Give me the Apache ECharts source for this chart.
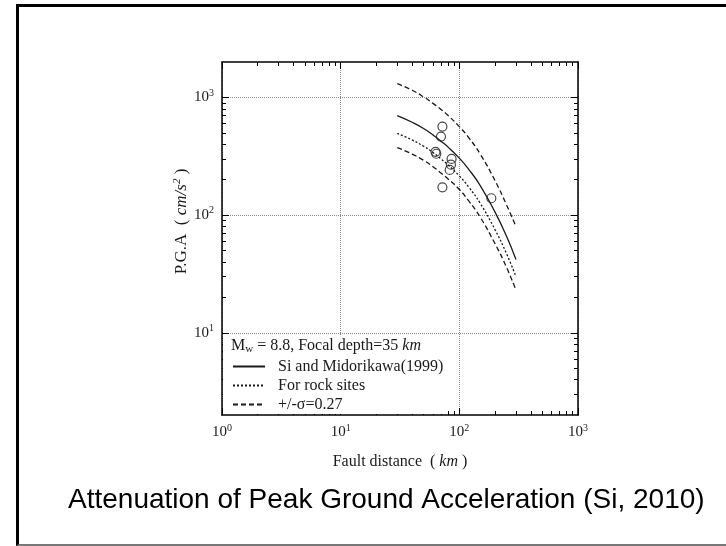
<!DOCTYPE html>
<html>
<head>
<meta charset="UTF-8">
<title>PGA attenuation</title>
<script src="https://cdn.jsdelivr.net/npm/echarts@6/dist/echarts.min.js"></script>
<style>
  html, body { margin: 0; padding: 0; background: #fff; }
  #main { position: absolute; left: 0; top: 0; width: 726px; height: 546px; }
  #frame { position: absolute; left: 16px; top: 4px; width: 720px; height: 537px;
           border-left: 3px solid #000; border-top: 3px solid #000; border-bottom: 2px solid #777;
           pointer-events: none; }
</style>
</head>
<body>
<div id="main"></div>
<div id="frame"></div>
<script type="text/javascript">
    // fault distance (km) of the curve points
    var distanceKm = [30, 40, 50, 60, 70, 80, 100, 120, 150, 200, 250, 300];
    // PGA (cm/s2)
    var pgaMean  = [700, 615, 545, 480, 425, 380, 305, 245, 178, 106, 66, 42];
    var pgaRock  = [495, 435, 385, 340, 300, 268, 215, 173, 126, 75, 47, 30];
    var pgaUpper = [1310, 1150, 1010, 890, 790, 705, 565, 455, 330, 196, 122, 80];
    var pgaLower = [375, 330, 292, 258, 228, 204, 165, 132, 96, 57, 36, 23];
    // recorded stations
    var obsDistance = [72, 70, 63, 64, 86, 85, 83, 72, 186];
    var obsPga      = [565, 465, 345, 332, 300, 268, 242, 172, 139];
    // ticks
    var xMajorTicks = [1, 10, 100, 1000];
    var yMajorTicks = [10, 100, 1000];
    var yMinorTicks = [3, 4, 5, 6, 7, 8, 9, 20, 30, 40, 50, 60, 70, 80, 90, 200, 300, 400, 500, 600, 700, 800, 900];

    var serif = 'Liberation Serif';
    var ink = '#1a1a1a';

    function pairs(xs, ys) {
        var out = [];
        for (var i = 0; i < xs.length; i++) out.push([xs[i], ys[i]]);
        return out;
    }
    function powLabel(v) {
        return '{b|10}{e|' + Math.round(Math.log10(v)) + '}';
    }
    var powRich = {
        b: { fontFamily: serif, fontSize: 15, color: ink },
        e: { fontFamily: serif, fontSize: 10, color: ink, padding: [0, 0, 9, 0] }
    };

    var myChart = echarts.init(document.getElementById('main'));

    var lineStyleBase = { color: ink, width: 1.3 };
    function curve(name, data, type) {
        return {
            name: name, type: 'line', data: data, symbol: 'none', smooth: true,
            xAxisIndex: 0, yAxisIndex: 0,
            lineStyle: Object.assign({}, lineStyleBase, { type: type }),
            itemStyle: { color: ink }
        };
    }

    function xAxisCfg(pos, labels) {
        return {
            type: 'log', logBase: 10, min: 1, max: 1000, position: pos,
            axisLine: { show: true, onZero: false, lineStyle: { color: '#000', width: 1.5 } },
            axisTick: { show: true, inside: true, length: 7, customValues: xMajorTicks, lineStyle: { color: '#000' } },
            minorTick: { show: true, splitNumber: 9, length: 4, lineStyle: { color: '#000' } },
            axisLabel: labels ? { show: true, margin: 8, customValues: xMajorTicks,
                                  formatter: powLabel, rich: powRich } : { show: false },
            splitLine: { show: labels, lineStyle: { color: '#8a8a8a', type: 'dotted', width: 1 } },
            name: labels ? '{a|Fault distance  ( }{i|km}{a| )}' : '',
            nameLocation: 'middle', nameGap: 39,
            nameTextStyle: { rich: {
                a: { fontFamily: serif, fontSize: 16, color: ink },
                i: { fontFamily: serif, fontSize: 16, fontStyle: 'italic', color: ink }
            } }
        };
    }
    function yAxisCfg(pos, minor, labels) {
        return {
            type: 'log', logBase: 10, min: 2, max: 2000, position: pos,
            axisLine: { show: !minor, onZero: false, lineStyle: { color: '#000', width: 1.5 } },
            axisTick: { show: true, inside: true, length: minor ? 4 : 7,
                        customValues: minor ? yMinorTicks : yMajorTicks, lineStyle: { color: '#000' } },
            axisLabel: labels ? { show: true, margin: 8, customValues: yMajorTicks,
                                  formatter: powLabel, rich: powRich } : { show: false },
            splitLine: { show: labels, lineStyle: { color: '#8a8a8a', type: 'dotted', width: 1 } },
            name: labels ? '{a|P.G.A  ( }{i|cm/s}{e|2}{a| )}' : '',
            nameLocation: 'middle', nameGap: 30, nameRotate: 90,
            nameTextStyle: { padding: [0, 0, 0, 34], rich: {
                a: { fontFamily: serif, fontSize: 17, color: ink },
                i: { fontFamily: serif, fontSize: 17, fontStyle: 'italic', color: ink },
                e: { fontFamily: serif, fontSize: 11, fontStyle: 'italic', color: ink, padding: [0, 0, 9, 0] }
            } }
        };
    }

    myChart.setOption({
        animation: false,
        backgroundColor: '#fff',
        grid: { left: 222, top: 62, right: 148, bottom: 131, containLabel: false },
        title: [
            {
                text: '{t|M}{s|w}{t| = 8.8, Focal depth=35 }{i|km}',
                left: 231, top: 337, padding: 0, z: 10,
                textStyle: { fontWeight: 'normal', rich: {
                    t: { fontFamily: serif, fontSize: 16, fontWeight: 'normal', color: ink },
                    s: { fontFamily: serif, fontSize: 11, fontWeight: 'normal', color: ink, padding: [7, 0, 0, 0] },
                    i: { fontFamily: serif, fontSize: 16, fontWeight: 'normal', fontStyle: 'italic', color: ink }
                } }
            },
            {
                text: 'Attenuation of Peak Ground Acceleration (Si, 2010)',
                left: 68, top: 485, padding: 0,
                textStyle: { fontFamily: 'Liberation Sans', fontSize: 28, fontWeight: 'normal', color: '#000', lineHeight: 30 }
            }
        ],
        legend: {
            data: ['Si and Midorikawa(1999)', 'For rock sites', '+/-σ=0.27'],
            orient: 'vertical', left: 223, top: 335,
            padding: [22, 4, 0, 9],
            backgroundColor: '#fff',
            itemWidth: 32, itemHeight: 12, itemGap: 0,
            itemStyle: { opacity: 0 },
            selectedMode: false,
            textStyle: { fontFamily: serif, fontSize: 16, color: ink, lineHeight: 19, padding: [0, 0, 0, 8] }
        },
        xAxis: [xAxisCfg('bottom', true), xAxisCfg('top', false)],
        yAxis: [yAxisCfg('left', false, true), yAxisCfg('left', true, false),
                yAxisCfg('right', false, false), yAxisCfg('right', true, false)],
        series: [
            curve('Si and Midorikawa(1999)', pairs(distanceKm, pgaMean), 'solid'),
            curve('For rock sites', pairs(distanceKm, pgaRock), [2, 2]),
            curve('+/-σ=0.27', pairs(distanceKm, pgaUpper), [5, 3]),
            curve('+/-σ=0.27', pairs(distanceKm, pgaLower), [5, 3]),
            {
                type: 'scatter', data: pairs(obsDistance, obsPga),
                xAxisIndex: 0, yAxisIndex: 0,
                symbol: 'circle', symbolSize: 9, z: 5,
                itemStyle: { color: 'rgba(255,255,255,0)', borderColor: ink, borderWidth: 1.2 }
            }
        ]
    });
</script>
</body>
</html>
